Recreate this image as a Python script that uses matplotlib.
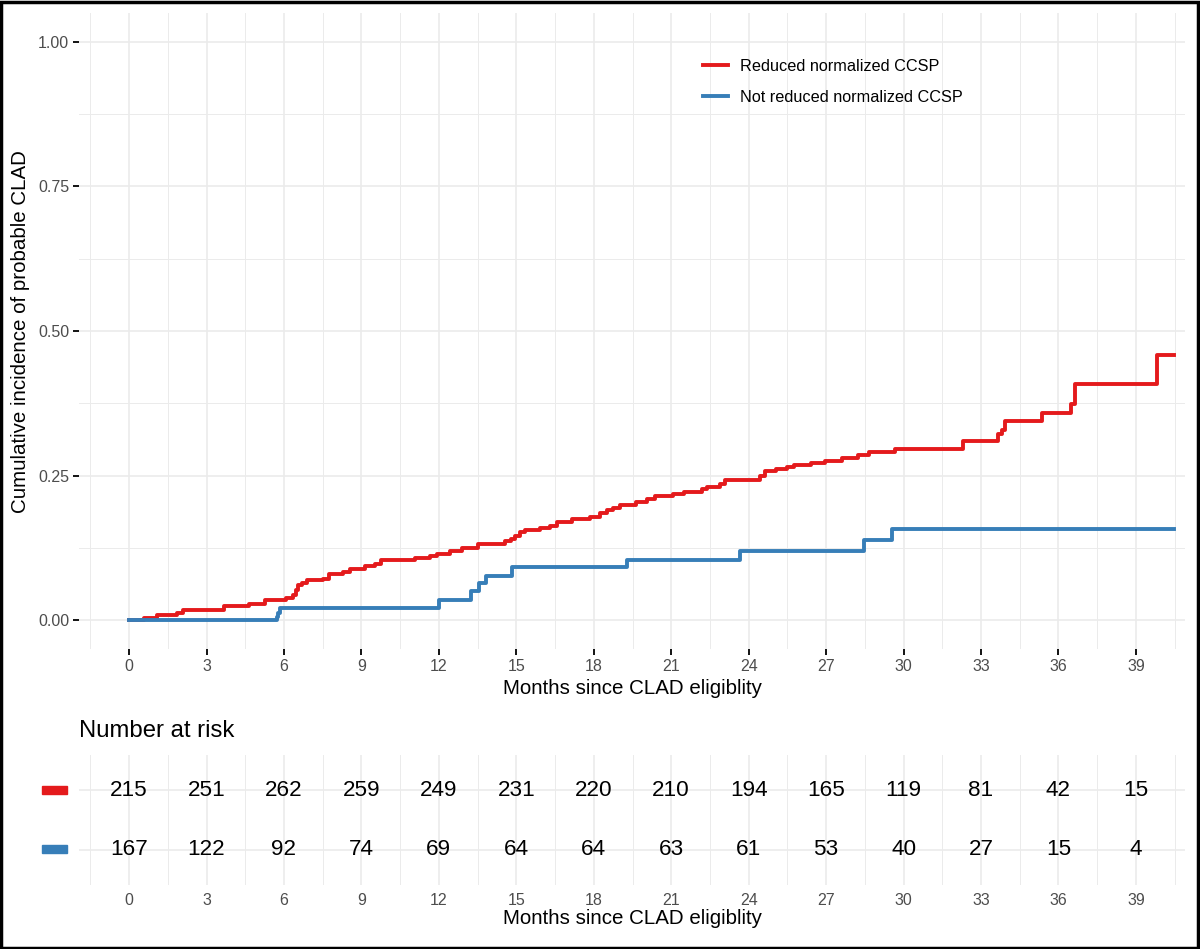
import matplotlib
matplotlib.use("Agg")
import matplotlib.pyplot as plt
from matplotlib.patches import Rectangle
import numpy as np

plt.rcParams['font.family'] = ['Liberation Sans', 'DejaVu Sans']

# cumulative incidence (months, probability)
red_t = [0, 0.58, 1.10, 1.85, 2.10, 3.69, 4.65, 5.27, 6.08, 6.36, 6.45, 6.53, 6.69, 6.91,
         7.53, 7.76, 8.30, 8.56, 9.14, 9.53, 9.75, 11.08, 11.66, 11.92, 12.43, 12.88,
         13.53, 14.56, 14.79, 14.95, 15.14, 15.34, 15.92, 16.30, 16.56, 17.15, 17.85,
         18.24, 18.50, 18.76, 19.02, 19.64, 20.05, 20.37, 21.06, 21.48, 22.18, 22.40,
         22.89, 23.10, 24.44, 24.65, 25.07, 25.49, 25.77, 26.40, 26.97, 27.60, 28.24,
         28.66, 29.65, 32.32, 33.66, 33.80, 33.94, 35.35, 36.47, 36.65, 39.83, 40.49]
red_v = [0, 0.0035, 0.008, 0.0125, 0.0167, 0.0236, 0.0283, 0.0351, 0.038, 0.0437, 0.052,
         0.0607, 0.065, 0.0686, 0.071, 0.080, 0.0838, 0.088, 0.0928, 0.0974, 0.1032, 0.107,
         0.111, 0.115, 0.119, 0.125, 0.132, 0.136, 0.140, 0.146, 0.152, 0.155, 0.159, 0.163,
         0.170, 0.174, 0.179, 0.186, 0.190, 0.194, 0.199, 0.205, 0.209, 0.215, 0.218, 0.222,
         0.226, 0.230, 0.235, 0.243, 0.250, 0.257, 0.261, 0.265, 0.268, 0.272, 0.276, 0.281,
         0.285, 0.291, 0.296, 0.310, 0.321, 0.328, 0.344, 0.358, 0.374, 0.409, 0.458, 0.458]

blue_t = [0, 5.72, 5.76, 5.85, 12.02, 13.26, 13.54, 13.81, 14.85, 19.27, 23.66, 28.45, 29.55, 40.49]
blue_v = [0, 0.006, 0.013, 0.021, 0.035, 0.050, 0.064, 0.077, 0.092, 0.104, 0.120, 0.138, 0.157, 0.157]

risk_times = [0, 3, 6, 9, 12, 15, 18, 21, 24, 27, 30, 33, 36, 39]
risk_red = [215, 251, 262, 259, 249, 231, 220, 210, 194, 165, 119, 81, 42, 15]
risk_blue = [167, 122, 92, 74, 69, 64, 64, 63, 61, 53, 40, 27, 15, 4]

labels = ["Reduced normalized CCSP", "Not reduced normalized CCSP"]
RED = "#E41A1C"
BLUE = "#377EB8"
GRID = "#EBEBEB"
GREY = "#4D4D4D"

W, H = 1200, 949
fig = plt.figure(figsize=(W / 100, H / 100), dpi=100)

def fx(px):
    return px / W

def fy(py):
    return (H - py) / H

xlim = (-1.94, 40.9)
xticks = np.arange(0, 40, 3)
xminor = np.arange(-1.5, 41, 1.5)

# main plot
ax = fig.add_axes([fx(79), fy(649), fx(1185) - fx(79), fy(13) - fy(649)])
ax.step(red_t, red_v, where='post', color=RED, lw=2.8, label=labels[0])
ax.step(blue_t, blue_v, where='post', color=BLUE, lw=2.8, label=labels[1])
ax.set_xlim(*xlim)
ax.set_ylim(-0.05, 1.05)
ax.set_xticks(xticks)
ax.set_xticks(xminor, minor=True)
ax.set_yticks([0, 0.25, 0.5, 0.75, 1.0])
ax.set_yticklabels(["0.00", "0.25", "0.50", "0.75", "1.00"])
ax.set_yticks(np.arange(0.125, 1.0, 0.25), minor=True)
ax.grid(True, which='major', color=GRID, lw=1.2, zorder=0)
ax.grid(True, which='minor', color=GRID, lw=0.7, zorder=0)
ax.set_axisbelow(True)
for s in ax.spines.values():
    s.set_visible(False)
ax.tick_params(which='major', length=4, width=1.3, color='black', labelsize=11.5,
               labelcolor=GREY, pad=3)
ax.tick_params(which='minor', length=0)
leg = ax.legend(loc='upper left', bbox_to_anchor=(fx(688), fy(44)),
                bbox_transform=fig.transFigure, frameon=False, fontsize=11.7,
                handlelength=1.55, handletextpad=0.75, labelspacing=1.0)
fig.text(fx(632), fy(688), "Months since CLAD eligiblity", ha='center', va='center', fontsize=14.8)
fig.text(fx(21), fy(332), "Cumulative incidence of probable CLAD", ha='center', va='center',
         rotation=90, fontsize=14.8)

# number at risk table
rt = fig.add_axes([fx(79), fy(885), fx(1185) - fx(79), fy(755) - fy(885)])
rt.set_xlim(*xlim)
rt.set_ylim(2.6, 0.4)
rt.set_xticks(xticks)
rt.set_xticks(xminor, minor=True)
rt.set_yticks([1, 2])
rt.set_yticklabels([])
rt.grid(True, which='major', color=GRID, lw=1.2, zorder=0)
rt.grid(True, which='minor', axis='x', color=GRID, lw=0.7, zorder=0)
rt.set_axisbelow(True)
for s in rt.spines.values():
    s.set_visible(False)
rt.tick_params(which='both', length=0, labelsize=11.5, labelcolor=GREY, pad=6)
for t, n in zip(risk_times, risk_red):
    rt.text(t, 1, str(n), ha='center', va='center', fontsize=16.2)
for t, n in zip(risk_times, risk_blue):
    rt.text(t, 2, str(n), ha='center', va='center', fontsize=16.2)
fig.text(fx(79), fy(731), "Number at risk", ha='left', va='center', fontsize=17.2)
fig.text(fx(632), fy(918), "Months since CLAD eligiblity", ha='center', va='center', fontsize=14.8)

fig.patches.append(Rectangle((fx(42), fy(794)), fx(25), fy(786) - fy(794),
                             transform=fig.transFigure, color=RED, figure=fig))
fig.patches.append(Rectangle((fx(42), fy(853)), fx(25), fy(845) - fy(853),
                             transform=fig.transFigure, color=BLUE, figure=fig))

# outer frame
fig.patches.append(Rectangle((0.001, 0.001), 0.997, 0.997, transform=fig.transFigure,
                             fill=False, edgecolor='black', lw=2.5, figure=fig))

fig.savefig("out.png", dpi=100)
